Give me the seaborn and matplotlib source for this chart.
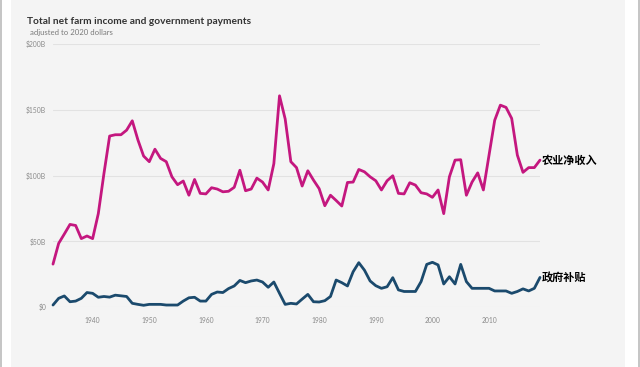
import matplotlib
matplotlib.use("Agg")
import matplotlib.pyplot as plt
import matplotlib.patches as mpatches
import numpy as np
import pandas as pd
import seaborn as sns

W, H, DPI = 640, 367, 100

years = list(range(1933, 2020))

# net farm income, billions of 2020 dollars
net_income = [
    32.6, 48.4, 55.5, 62.8, 62.0, 52.0, 54.0, 52.0, 71.0, 101.6,
    130.0, 131.0, 131.0, 134.5, 141.6, 127.0, 114.8, 110.5, 120.0, 113.0,
    110.5, 99.0, 93.0, 95.8, 85.0, 97.0, 86.4, 86.0, 90.7, 89.7,
    87.6, 88.0, 91.0, 104.0, 88.4, 89.7, 98.0, 95.0, 89.0, 109.0,
    160.6, 143.0, 110.5, 106.0, 92.0, 103.6, 96.5, 90.0, 77.0, 85.0,
    81.0, 76.8, 94.7, 95.0, 104.6, 102.8, 99.0, 96.0, 89.0, 96.0,
    99.8, 86.4, 86.0, 94.5, 92.7, 86.9, 86.0, 83.4, 89.0, 71.0,
    99.0, 111.7, 112.0, 85.0, 95.0, 102.0, 89.0, 115.5, 142.0, 153.5,
    151.8, 143.4, 115.5, 102.4, 106.0, 106.0, 111.7,
]

# government payments, billions of 2020 dollars
gov_payments = [
    1.5, 6.6, 8.4, 4.0, 4.5, 6.6, 11.0, 10.4, 7.4, 8.0,
    7.5, 9.0, 8.5, 8.0, 2.8, 2.0, 1.3, 2.0, 2.0, 2.0,
    1.5, 1.5, 1.5, 4.5, 7.0, 7.4, 4.5, 4.5, 9.6, 11.4,
    11.0, 14.0, 16.0, 20.2, 18.5, 19.8, 20.5, 19.0, 15.0, 19.0,
    10.4, 2.0, 2.8, 2.3, 6.0, 9.6, 4.0, 3.8, 4.8, 8.0,
    20.5, 18.5, 16.0, 26.8, 33.7, 28.0, 19.8, 16.2, 14.2, 15.4,
    22.3, 13.0, 11.8, 11.8, 11.8, 19.3, 32.4, 34.0, 32.0, 17.5,
    23.0, 17.5, 32.4, 19.3, 14.2, 14.2, 14.2, 14.2, 12.2, 12.2,
    12.2, 10.4, 11.8, 13.8, 12.2, 14.2, 22.5,
]

series_names = ["农业净收入", "政府补贴"]
colors = ["#c4177f", "#1b4a6d"]
y_ticks = [0, 50, 100, 150, 200]
y_labels = ["$0", "$50B", "$100B", "$150B", "$200B"]
x_ticks = [1940, 1950, 1960, 1970, 1980, 1990, 2000, 2010]

df = pd.DataFrame({
    "year": years * 2,
    "value": net_income + gov_payments,
    "series": [series_names[0]] * len(years) + [series_names[1]] * len(years),
})

sns.set_theme(style="white")
plt.rcParams["font.family"] = ["Lato", "Noto Sans CJK SC", "DejaVu Sans"]

fig = plt.figure(figsize=(W / DPI, H / DPI), dpi=DPI, facecolor="white")

# card background and outer border lines
fig.patches.append(mpatches.Rectangle((11 / W, 0), (625 - 11) / W, 1, transform=fig.transFigure,
                                      facecolor="#f4f4f4", edgecolor="none", zorder=-10))
for x0 in (0, 638):
    fig.patches.append(mpatches.Rectangle((x0 / W, 0), 2 / W, 1, transform=fig.transFigure,
                                          facecolor="#c6c6c6", edgecolor="none", zorder=-10))

left, right, top, bottom = 53, 540, 44, 307
ax = fig.add_axes([left / W, 1 - bottom / H, (right - left) / W, (bottom - top) / H])
ax.set_facecolor("none")

sns.lineplot(data=df, x="year", y="value", hue="series", palette=colors,
             linewidth=2.0, legend=False, ax=ax, clip_on=False)

ax.set_xlim(1933, 2019)
ax.set_ylim(0, 200)
ax.set_yticks(y_ticks)
ax.set_yticklabels(y_labels)
ax.set_xticks(x_ticks)
ax.set_xlabel("")
ax.set_ylabel("")
ax.tick_params(axis="both", length=0, labelsize=4.9, labelcolor="#8a8a8a")
ax.tick_params(axis="y", pad=5)
ax.tick_params(axis="x", pad=7)
for s in ax.spines.values():
    s.set_visible(False)
ax.yaxis.grid(True, color="#e2e2e2", linewidth=0.8)
ax.set_axisbelow(True)

# end labels
ax.text(2019.3, net_income[-1], series_names[0], fontsize=8, fontweight="bold",
        family=["Noto Sans CJK SC", "DejaVu Sans"], color="black", va="center", ha="left")
ax.text(2019.3, gov_payments[-1], series_names[1], fontsize=8, fontweight="bold",
        family=["Noto Sans CJK SC", "DejaVu Sans"], color="black", va="center", ha="left")

fig.text(27 / W, 1 - 22 / H, "Total net farm income and government payments",
         fontsize=7.3, fontweight="bold", color="#333333", va="center", ha="left")
fig.text(30 / W, 1 - 33 / H, "adjusted to 2020 dollars",
         fontsize=5.6, color="#7a7a7a", va="center", ha="left")

fig.savefig("out.png", dpi=DPI, facecolor="white")
